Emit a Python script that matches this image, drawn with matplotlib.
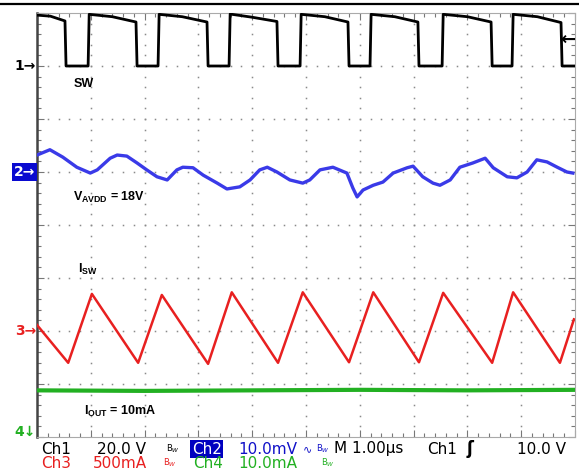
import numpy as np
import matplotlib
matplotlib.use("Agg")
import matplotlib.pyplot as plt
from matplotlib.lines import Line2D

# --------------------------------------------
# scope screen: 10 x 8 divisions, 1.00 us/div
# --------------------------------------------
n_hdiv = 10
n_vdiv = 8

# channel scale (per div) and ground position (divs from bottom)
ch1_scale, ch1_pos = 20.0, 7.0     # V
ch2_scale, ch2_pos = 10.0, 5.0     # mV (ac)
ch3_scale, ch3_pos = 500.0, 2.0    # mA
ch4_scale, ch4_pos = 10.0, -0.12   # mA
trig_level = 10.0                  # V on Ch1

# ----- Ch1: SW node (V) -----
sw_t = [0.00, 0.25, 0.52, 0.54, 0.95, 0.97, 1.40, 1.84, 1.86, 2.25, 2.27, 2.70, 3.16,
        3.18, 3.57, 3.59, 4.00, 4.46, 4.48, 4.89, 4.91, 5.35, 5.78, 5.80, 6.19, 6.21,
        6.65, 7.08, 7.10, 7.53, 7.55, 8.00, 8.44, 8.46, 8.83, 8.85, 9.30, 9.74, 9.76, 10.0]
sw_v = [19.2, 18.8, 17.0, 0.0, 0.0, 19.5, 18.6, 16.6, 0.0, 0.0, 19.5, 18.6, 16.6,
        0.0, 0.0, 19.6, 18.4, 16.8, 0.0, 0.0, 19.5, 18.6, 16.6, 0.0, 0.0, 19.5,
        18.6, 16.6, 0.0, 0.0, 19.5, 18.6, 16.6, 0.0, 0.0, 19.5, 18.6, 16.4, 0.0, 0.0]

# ----- Ch2: AVDD ripple (mV) -----
avdd_t = [0.00, 0.24, 0.48, 0.74, 0.99, 1.12, 1.36, 1.49, 1.67, 1.86, 2.04, 2.23, 2.42,
          2.60, 2.71, 2.90, 3.09, 3.35, 3.53, 3.77, 3.96, 4.14, 4.28, 4.46, 4.70, 4.94,
          5.07, 5.26, 5.50, 5.76, 5.87, 5.95, 6.06, 6.25, 6.43, 6.62, 6.88, 6.99, 7.17,
          7.36, 7.49, 7.68, 7.86, 8.10, 8.33, 8.48, 8.74, 8.92, 9.11, 9.29, 9.48, 9.67,
          9.85, 9.96]
avdd_mv = [3.2, 4.2, 2.8, 0.9, -0.2, 0.4, 2.6, 3.2, 3.0, 1.7, 0.4, -0.9, -1.5,
           0.4, 0.9, 0.8, -0.6, -2.1, -3.2, -2.8, -1.5, 0.4, 0.9, 0.0, -1.5, -2.1,
           -1.5, 0.4, 0.9, -0.2, -3.0, -4.7, -3.4, -2.5, -1.9, -0.2, 0.8, 1.1, -0.9,
           -2.1, -2.5, -1.5, 0.9, 1.7, 2.6, 0.8, -0.9, -1.1, 0.0, 2.3, 1.9, 0.9,
           0.0, -0.2]

# ----- Ch3: inductor current I_SW (mA) -----
isw_t = [0.00, 0.58, 1.02, 1.88, 2.32, 3.18, 3.62, 4.48, 4.94, 5.80, 6.25, 7.10, 7.55,
         8.46, 8.85, 9.72, 9.98]
isw_ma = [57, -300, 350, -300, 340, -310, 365, -300, 365, -295, 365, -295, 360,
          -300, 365, -300, 110]

# ----- Ch4: output current (mA) -----
iout_t = [0.0, 2.0, 4.0, 6.0, 8.0, 10.0]
iout_ma = [10.0, 9.9, 10.0, 10.1, 10.0, 10.1]

W, H = 579, 470
def fx(px):
    return px / W
def fy(py):
    return 1 - py / H


def main():
    plt.rcParams["mathtext.fontset"] = "custom"
    plt.rcParams["mathtext.rm"] = "Liberation Sans"
    plt.rcParams["mathtext.bf"] = "Liberation Sans:bold"

    fig = plt.figure(figsize=(W / 100, H / 100), dpi=100)
    fig.patch.set_facecolor("white")
    ax = fig.add_axes([fx(37), fy(437), fx(575) - fx(37), fy(13) - fy(437)])
    ax.set_xlim(0, n_hdiv)
    ax.set_ylim(0, n_vdiv)

    # ----- graticule: dotted divisions + edge ticks -----
    dots = np.arange(0, n_hdiv + 0.01, 0.2)
    for yy in range(1, n_vdiv):
        ax.plot(dots, np.full_like(dots, yy), ls="none", marker="s", ms=1.1,
                color="#8a8a8a", mew=0, zorder=1)
    dots_v = np.arange(0, n_vdiv + 0.01, 0.2)
    for xx in range(1, n_hdiv):
        ax.plot(np.full_like(dots_v, xx), dots_v, ls="none", marker="s", ms=1.1,
                color="#8a8a8a", mew=0, zorder=1)
    ax.set_xticks(np.arange(0, n_hdiv + 0.01, 1))
    ax.set_xticks(np.arange(0, n_hdiv + 0.01, 0.2), minor=True)
    ax.set_yticks(np.arange(0, n_vdiv + 0.01, 1))
    ax.set_yticks(np.arange(0, n_vdiv + 0.01, 0.2), minor=True)
    ax.tick_params(which="both", direction="in", top=True, right=True,
                   labelbottom=False, labelleft=False, color="#777777", width=0.8)
    ax.tick_params(which="major", length=5)
    ax.tick_params(which="minor", length=3)
    for side in ["top", "bottom", "right"]:
        ax.spines[side].set_color("#aaaaaa")
        ax.spines[side].set_linewidth(0.8)
    ax.spines["left"].set_color("#444444")
    ax.spines["left"].set_linewidth(1.8)

    # ----- traces -----
    ax.plot(iout_t, ch4_pos + np.array(iout_ma) / ch4_scale, color="#22b022", lw=3.0, zorder=3)
    ax.plot(isw_t, ch3_pos + np.array(isw_ma) / ch3_scale, color="#e82020", lw=1.8, zorder=3)
    ax.plot(avdd_t, ch2_pos + np.array(avdd_mv) / ch2_scale, color="#3a3ae8", lw=2.4, zorder=3)
    ax.plot(sw_t, ch1_pos + np.array(sw_v) / ch1_scale, color="black", lw=2.0, zorder=3)

    # ----- trace labels -----
    lab = dict(family="Liberation Sans", fontweight="bold", fontsize=9, color="black")
    ax.text(0.68, 6.6, "SW", **lab)
    ax.text(0.67, 4.45, r"$\mathbf{V_{AVDD}}$ = 18V", **lab)
    ax.text(0.76, 3.1, r"$\mathbf{I_{SW}}$", **lab)
    ax.text(0.88, 0.42, r"$\mathbf{I_{OUT}}$ = 10mA", **lab)

    # ----- channel ground markers -----
    mk = dict(fontsize=10, va="center", ha="right", fontweight="bold")
    fig.text(fx(36), fy(66), "1\u2192", color="black", **mk)
    fig.text(fx(35), fy(172), "2\u2192", color="white",
             bbox=dict(boxstyle="square,pad=0.12", fc="#0a0ad0", ec="none"), **mk)
    fig.text(fx(36), fy(331), "3\u2192", color="#e82020", **mk)
    fig.text(fx(36), fy(432), "4\u2193", color="#22b022", **mk)
    # trigger level arrow
    ax.annotate("\u2190", xy=(n_hdiv, ch1_pos + trig_level / ch1_scale),
                xytext=(0, 0), textcoords="offset points", ha="right", va="center",
                fontsize=13, fontweight="bold", color="black")

    # top rule of the screenshot
    fig.add_artist(Line2D([0, 1], [fy(3.5), fy(3.5)], color="black", lw=1.6))

    # ----- status line -----
    st = dict(fontsize=11, va="center", family="DejaVu Sans")
    bw = dict(fontsize=6, va="center")
    y1, y2 = fy(449), fy(463)
    blue = "#1010c8"
    red = "#e82020"
    green = "#22b022"
    fig.text(fx(41), y1, "Ch1", color="black", **st)
    fig.text(fx(97), y1, "20.0 V", color="black", **st)
    fig.text(fx(166), y1, "B$_W$", color="black", **bw)
    fig.text(fx(192), y1, "Ch2", color="white",
             bbox=dict(boxstyle="square,pad=0.1", fc="#0000c0", ec="none"), **st)
    fig.text(fx(238), y1, "10.0mV", color=blue, **st)
    fig.text(fx(303), y1, "\u223f", color=blue, fontsize=8, va="center")
    fig.text(fx(316), y1, "B$_W$", color=blue, **bw)
    fig.text(fx(334), y1, "M 1.00\u00b5s", color="black", **st)
    fig.text(fx(427), y1, "Ch1", color="black", **st)
    fig.text(fx(467), y1, "\u0283", color="black", fontsize=12, fontweight="bold", va="center")
    fig.text(fx(517), y1, "10.0 V", color="black", **st)

    fig.text(fx(41), y2, "Ch3", color=red, **st)
    fig.text(fx(93), y2, "500mA", color=red, **st)
    fig.text(fx(163), y2, "B$_W$", color=red, **bw)
    fig.text(fx(193), y2, "Ch4", color=green, **st)
    fig.text(fx(238), y2, "10.0mA", color=green, **st)
    fig.text(fx(321), y2, "B$_W$", color=green, **bw)

    fig.savefig("out.png", dpi=100, facecolor="white")


if __name__ == "__main__":
    main()
